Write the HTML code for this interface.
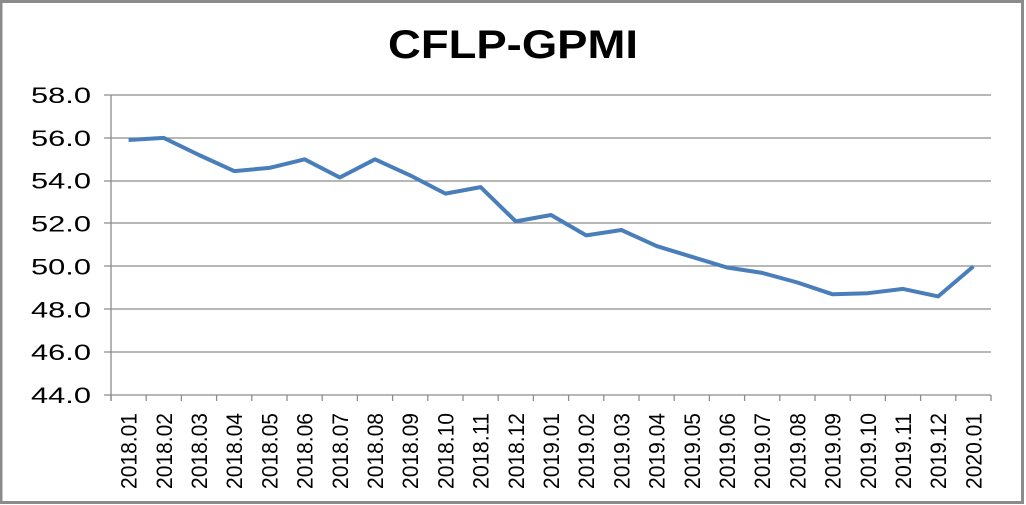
<!DOCTYPE html>
<html><head><style>body{margin:0;background:#fff}svg{display:block}</style></head><body>
<svg width="1026" height="505" xmlns="http://www.w3.org/2000/svg" font-family="Liberation Sans, sans-serif">
<rect x="1" y="1.5" width="1021.5" height="501" fill="#fff" stroke="#8c8c8c" stroke-width="3"/>
<text x="388" y="58" textLength="250" lengthAdjust="spacingAndGlyphs" font-size="40" font-weight="bold" fill="#000">CFLP-GPMI</text>
<g stroke="#8c8c8c" stroke-width="1.3">
<line x1="104" y1="95" x2="991" y2="95"/><line x1="104" y1="138" x2="991" y2="138"/>
<line x1="104" y1="181" x2="991" y2="181"/><line x1="104" y1="223" x2="991" y2="223"/>
<line x1="104" y1="266" x2="991" y2="266"/><line x1="104" y1="309" x2="991" y2="309"/>
<line x1="104" y1="352" x2="991" y2="352"/><line x1="104" y1="395" x2="991" y2="395"/>
<line x1="111" y1="95" x2="111" y2="401"/>
</g>
<g stroke="#8c8c8c" stroke-width="1.3" id="ticks"></g>
<g font-size="22" fill="#000" id="yl"></g>
<g id="labels" font-size="22" fill="#000"></g>
<polyline id="line" fill="none" stroke="#4a7ebb" stroke-width="4" stroke-linejoin="round"/>
<script>
var v=[55.9,56.0,55.2,54.45,54.6,55.0,54.15,55.0,54.25,53.4,53.7,52.1,52.4,51.45,51.7,50.95,50.45,49.95,49.7,49.25,48.7,48.75,48.95,48.6,50.0];
var names=["2018.01","2018.02","2018.03","2018.04","2018.05","2018.06","2018.07","2018.08","2018.09","2018.10","2018.11","2018.12","2019.01","2019.02","2019.03","2019.04","2019.05","2019.06","2019.07","2019.08","2019.09","2019.10","2019.11","2019.12","2020.01"];
var ns="http://www.w3.org/2000/svg",w=(991-111)/25,pts=[];
var tk=document.getElementById("ticks"),lb=document.getElementById("labels"),yl=document.getElementById("yl");
["58.0","56.0","54.0","52.0","50.0","48.0","46.0","44.0"].forEach(function(s,k){var t=document.createElementNS(ns,"text");t.setAttribute("x",31);t.setAttribute("y",103+k*300/7);t.setAttribute("textLength","60");t.setAttribute("lengthAdjust","spacingAndGlyphs");t.textContent=s;yl.appendChild(t);});
for(var i=0;i<=25;i++){var l=document.createElementNS(ns,"line");var x=111+i*w;l.setAttribute("x1",x);l.setAttribute("x2",x);l.setAttribute("y1",395);l.setAttribute("y2",401);tk.appendChild(l);}
for(var i=0;i<25;i++){var x=111+w*(i+0.5);pts.push(x.toFixed(1)+","+(395-(v[i]-44)*300/14).toFixed(1));
var t=document.createElementNS(ns,"text");t.setAttribute("transform","translate("+(x+8)+",489) rotate(-90)");t.setAttribute("textLength","76");t.setAttribute("lengthAdjust","spacingAndGlyphs");t.textContent=names[i];lb.appendChild(t);}
document.getElementById("line").setAttribute("points",pts.join(" "));
</script>
</svg>
</body></html>
